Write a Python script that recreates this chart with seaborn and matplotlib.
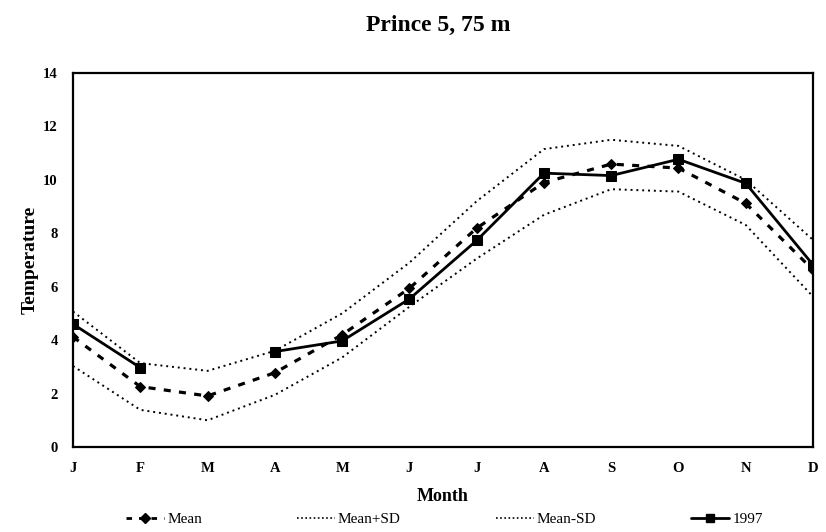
import numpy as np
import pandas as pd
import seaborn as sns
import matplotlib.pyplot as plt
from matplotlib.lines import Line2D

months = ['J', 'F', 'M', 'A', 'M', 'J', 'J', 'A', 'S', 'O', 'N', 'D']
mean_t = [4.12, 2.26, 1.91, 2.78, 4.2, 5.94, 8.19, 9.9, 10.59, 10.44, 9.12, 6.63]
mean_plus_sd = [5.07, 3.14, 2.85, 3.6, 5.0, 6.9, 9.2, 11.15, 11.5, 11.27, 10.0, 7.75]
mean_minus_sd = [3.03, 1.39, 1.0, 1.95, 3.35, 5.25, 7.05, 8.69, 9.65, 9.56, 8.31, 5.63]
t1997 = [4.6, 2.97, np.nan, 3.57, 3.97, 5.54, 7.73, 10.25, 10.16, 10.77, 9.87, 6.82]

x = np.arange(len(months))
df = pd.DataFrame({'m': x, 'mean': mean_t, 'plus': mean_plus_sd,
                   'minus': mean_minus_sd, 'y97': t1997})
# split 1997 into segments so the missing month leaves a gap
df['seg'] = df['y97'].isna().cumsum()
d97 = df.dropna(subset=['y97'])

sns.set_style('white', {'text.color': 'k', 'axes.labelcolor': 'k',
                        'xtick.color': 'k', 'ytick.color': 'k'})
plt.rcParams['font.family'] = ['Liberation Serif', 'DejaVu Serif']

fig = plt.figure(figsize=(8.26, 5.32), dpi=100)
ax = fig.add_axes([0.0884, 0.1598, 0.8959, 0.703])

sns.lineplot(data=df, x='m', y='plus', color='k', lw=1.4, ax=ax,
             linestyle=(0, (1, 2)))
sns.lineplot(data=df, x='m', y='minus', color='k', lw=1.4, ax=ax,
             linestyle=(0, (1, 2)))
sns.lineplot(data=df, x='m', y='mean', color='k', lw=2.3, ax=ax,
             linestyle=(0, (2.2, 2.6)), marker='D', markersize=5.5,
             markeredgecolor='k')
sns.lineplot(data=d97, x='m', y='y97', units='seg', estimator=None,
             color='k', lw=2.0, ax=ax, marker='s', markersize=7,
             markeredgecolor='k')

ax.set_xlim(0, 11)
ax.set_ylim(0, 14)
ax.set_xticks(x)
ax.set_xticklabels(months)
ax.set_yticks(range(0, 15, 2))
ax.tick_params(direction='inout', length=8, width=1.4, labelsize=10.5, pad=7,
               colors='k')
for lab in ax.get_xticklabels() + ax.get_yticklabels():
    lab.set_fontweight('bold')
for s in ax.spines.values():
    s.set_color('k')
    s.set_linewidth(1.6)

ax.set_xlabel('Month', fontsize=13, fontweight='bold', labelpad=9, color='k')
ax.set_ylabel('Temperature', fontsize=14, fontweight='bold', labelpad=3, color='k')
fig.suptitle('Prince 5, 75 m', fontsize=17, fontweight='bold', x=0.53, y=0.972,
             color='k')

handles = [
    Line2D([], [], color='k', lw=2, linestyle=(0, (2, 2.5)), marker='D', markersize=5),
    Line2D([], [], color='k', lw=1.2, linestyle=(0, (1, 1.5))),
    Line2D([], [], color='k', lw=1.2, linestyle=(0, (1, 1.5))),
    Line2D([], [], color='k', lw=2, marker='s', markersize=5.5),
]
fig.legend(handles, ['Mean', 'Mean+SD', 'Mean-SD', '1997'], loc='center',
           bbox_to_anchor=(0.538, 0.024), ncol=4, frameon=False, fontsize=11,
           handlelength=2.5, handletextpad=0.2, columnspacing=6.2,
           borderpad=0.1, labelcolor='k')

fig.savefig('out.png', dpi=100)
